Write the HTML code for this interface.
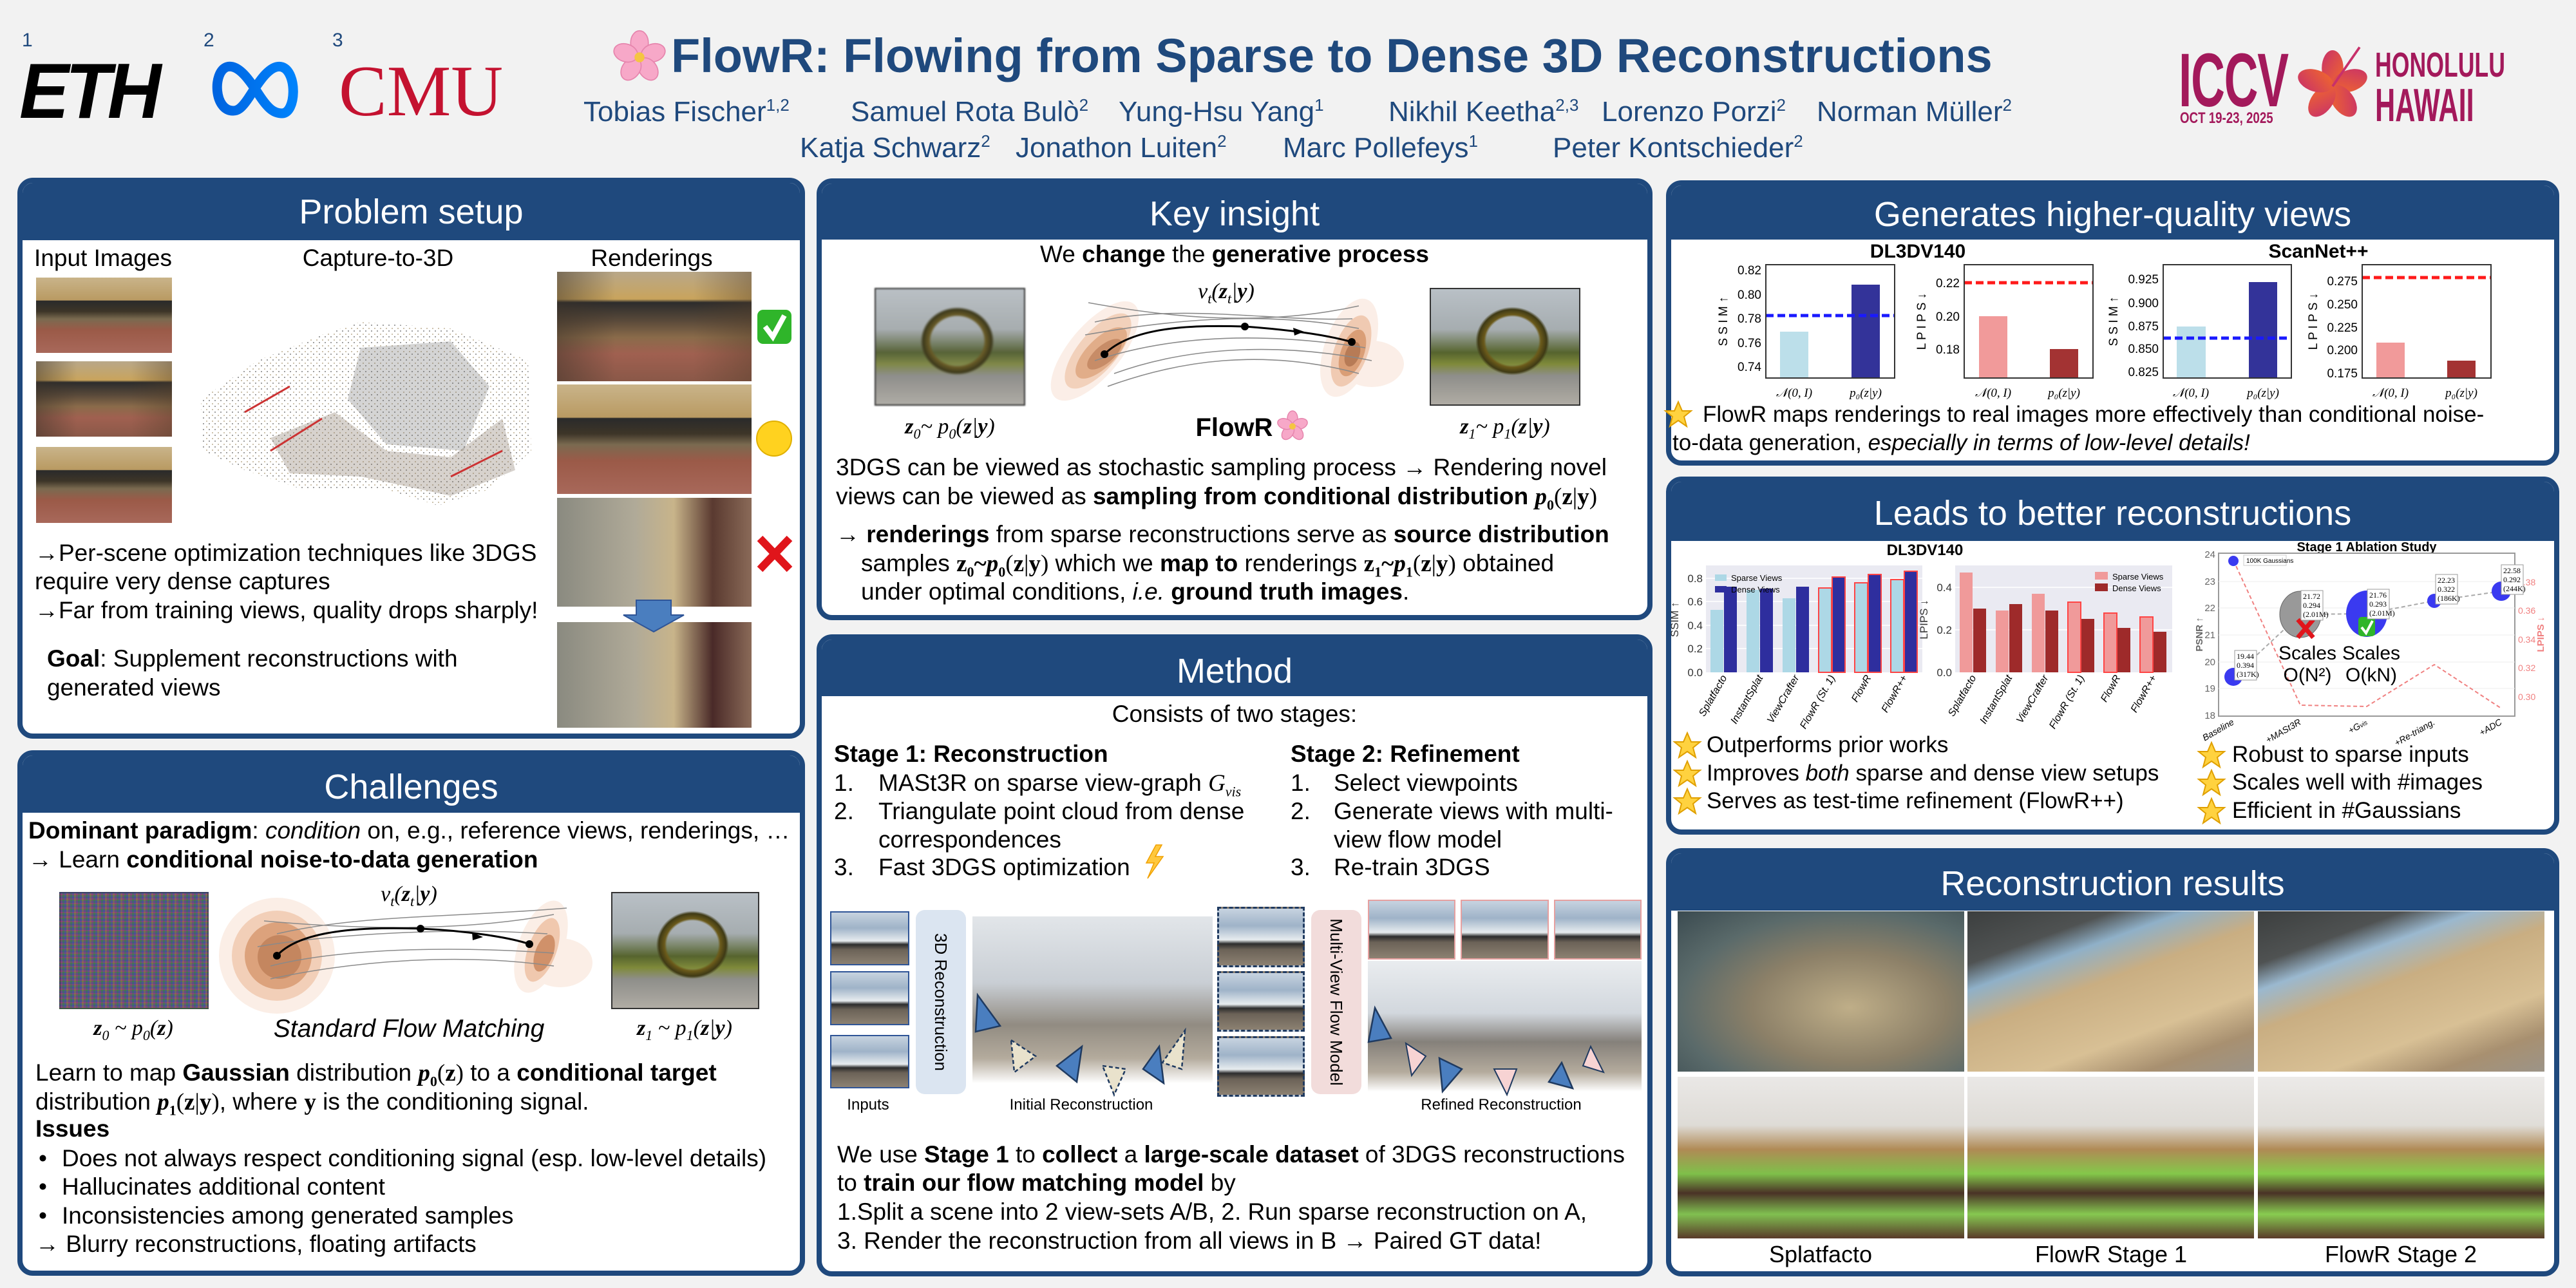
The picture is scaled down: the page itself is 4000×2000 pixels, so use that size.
<!DOCTYPE html>
<html><head><meta charset="utf-8">
<style>
*{margin:0;padding:0;box-sizing:border-box}
html,body{width:4000px;height:2000px;overflow:hidden;background:#f2f2f2;font-family:"Liberation Sans",sans-serif;color:#000}
.a{position:absolute}
.t{position:absolute;white-space:nowrap;font-size:37px;line-height:1}
.s35{font-size:35px}
.c{transform:translateX(-50%)}
.panel{position:absolute;border:8px solid #1f497d;border-radius:24px;background:#fff;overflow:hidden}
.hd{position:absolute;left:0;right:0;top:0;background:#1f497d;color:#fff;font-size:54px;text-align:center;line-height:1}
.m{font-family:"Liberation Serif",serif}
.mi{font-family:"Liberation Serif",serif;font-style:italic}
.mb{font-family:"Liberation Serif",serif;font-weight:bold}
.au{position:absolute;white-space:nowrap;font-size:44px;color:#1f497d;line-height:1}
.au sup{font-size:26px;vertical-align:16px;line-height:0}
.street{background:linear-gradient(180deg,#c9b48a 0%,#b99a62 30%,#2a2a2a 31%,#3d3528 45%,#7a6a50 55%,#9b5a48 70%,#a8685a 100%)}
.street2{background:linear-gradient(90deg,rgba(60,50,40,.5),rgba(0,0,0,0) 30%,rgba(0,0,0,0) 70%,rgba(80,60,40,.4)),linear-gradient(180deg,#b8a789 0%,#c9a45c 25%,#2c2c2c 28%,#5a4a3a 45%,#8a6b4a 60%,#a06050 75%,#8a5848 100%)}
.fount{background:radial-gradient(ellipse 32% 38% at 55% 45%,rgba(0,0,0,0) 55%,#6b5a1a 60%,#3f3a15 72%,rgba(0,0,0,0) 78%),linear-gradient(180deg,#b9c0c6 0%,#a6adb0 35%,#56642e 55%,#7f8a3a 65%,#8e8e8a 75%,#b0aca4 100%)}
.office{background:linear-gradient(180deg,#c7d3e0 0%,#9fb3c8 30%,#e7ecef 55%,#2c2c2c 62%,#6b6257 72%,#8c8172 100%)}
</style></head><body>

<!-- ===== HEADER ===== -->
<div class="t" style="left:34px;top:48px;font-size:30px;color:#1f497d">1</div>
<div class="t" style="left:30px;top:80px;font-size:122px;font-weight:bold;font-style:italic;letter-spacing:-6px;transform:scaleX(0.95);transform-origin:left">ETH</div>
<div class="t" style="left:316px;top:48px;font-size:30px;color:#1f497d">2</div>
<svg class="a" style="left:322px;top:92px" width="146" height="92" viewBox="0 0 146 92">
<defs><linearGradient id="mg" x1="0" x2="1"><stop offset="0" stop-color="#0064e0"/><stop offset="1" stop-color="#0082fb"/></linearGradient></defs>
<path d="M40 80 C10 80 8 20 30 12 C50 6 70 40 80 55 C95 78 104 84 116 84 C138 84 140 20 116 12 C96 6 76 42 64 60 C52 78 46 80 40 80 Z" fill="none" stroke="url(#mg)" stroke-width="15" stroke-linejoin="round"/></svg>
<div class="t" style="left:516px;top:48px;font-size:30px;color:#1f497d">3</div>
<div class="t" style="left:526px;top:86px;font-size:112px;font-family:'Liberation Serif',serif;color:#c41230">CMU</div>

<svg class="a" style="left:950px;top:46px" width="86" height="86" viewBox="0 0 100 100">
<g fill="#f7a8c8" stroke="#e685ad" stroke-width="2">
<ellipse cx="50" cy="24" rx="16" ry="22"/><ellipse cx="50" cy="24" rx="16" ry="22" transform="rotate(72 50 50)"/><ellipse cx="50" cy="24" rx="16" ry="22" transform="rotate(144 50 50)"/><ellipse cx="50" cy="24" rx="16" ry="22" transform="rotate(216 50 50)"/><ellipse cx="50" cy="24" rx="16" ry="22" transform="rotate(288 50 50)"/></g>
<circle cx="50" cy="50" r="9" fill="#f5c542"/></svg>
<div class="t" style="left:1042px;top:50px;font-size:74px;font-weight:bold;color:#1f497d">FlowR: Flowing from Sparse to Dense 3D Reconstructions</div>

<div class="au" style="left:906px;top:152px">Tobias Fischer<sup>1,2</sup></div>
<div class="au" style="left:1321px;top:152px">Samuel Rota Bulò<sup>2</sup></div>
<div class="au" style="left:1737px;top:152px">Yung-Hsu Yang<sup>1</sup></div>
<div class="au" style="left:2156px;top:152px">Nikhil Keetha<sup>2,3</sup></div>
<div class="au" style="left:2487px;top:152px">Lorenzo Porzi<sup>2</sup></div>
<div class="au" style="left:2821px;top:152px">Norman Müller<sup>2</sup></div>
<div class="au" style="left:1242px;top:208px">Katja Schwarz<sup>2</sup></div>
<div class="au" style="left:1577px;top:208px">Jonathon Luiten<sup>2</sup></div>
<div class="au" style="left:1992px;top:208px">Marc Pollefeys<sup>1</sup></div>
<div class="au" style="left:2411px;top:208px">Peter Kontschieder<sup>2</sup></div>

<!-- ICCV logo -->
<div class="t" style="left:3383px;top:66px;font-size:118px;font-weight:bold;color:#a3195b;transform:scaleX(0.62);transform-origin:left;letter-spacing:-2px">ICCV</div>
<div class="t" style="left:3385px;top:172px;font-size:24px;font-weight:bold;color:#a3195b;transform:scaleX(0.78);transform-origin:left">OCT 19-23, 2025</div>
<svg class="a" style="left:3560px;top:64px" width="124" height="140" viewBox="0 0 130 150">
<defs><linearGradient id="hb" x1="0" y1="0" x2="1" y2="1"><stop offset="0" stop-color="#c8306a"/><stop offset="1" stop-color="#f26a2a"/></linearGradient></defs>
<g fill="url(#hb)"><ellipse cx="65" cy="45" rx="18" ry="30"/><ellipse cx="65" cy="45" rx="18" ry="30" transform="rotate(72 65 75)"/><ellipse cx="65" cy="45" rx="18" ry="30" transform="rotate(144 65 75)"/><ellipse cx="65" cy="45" rx="18" ry="30" transform="rotate(216 65 75)"/><ellipse cx="65" cy="45" rx="18" ry="30" transform="rotate(288 65 75)"/></g>
<path d="M65 75 L110 10" stroke="#c8306a" stroke-width="4"/></svg>
<div class="t" style="left:3688px;top:74px;font-size:54px;font-weight:bold;color:#a3195b;transform:scaleX(0.66);transform-origin:left">HONOLULU</div>
<div class="t" style="left:3688px;top:128px;font-size:72px;font-weight:bold;color:#a3195b;transform:scaleX(0.6);transform-origin:left">HAWAII</div>

<!-- ===== PANELS ===== -->
<div class="panel" style="left:27px;top:276px;width:1223px;height:871px"><div class="hd" style="height:89px;padding-top:18px">Problem setup</div></div>
<div class="panel" style="left:27px;top:1165px;width:1223px;height:816px"><div class="hd" style="height:89px;padding-top:22px">Challenges</div></div>
<div class="panel" style="left:1268px;top:277px;width:1298px;height:686px"><div class="hd" style="height:87px;padding-top:20px">Key insight</div></div>
<div class="panel" style="left:1268px;top:985px;width:1298px;height:997px"><div class="hd" style="height:88px;padding-top:22px">Method</div></div>
<div class="panel" style="left:2587px;top:280px;width:1387px;height:443px"><div class="hd" style="height:84px;padding-top:18px">Generates higher-quality views</div></div>
<div class="panel" style="left:2587px;top:740px;width:1387px;height:556px"><div class="hd" style="height:92px;padding-top:22px">Leads to better reconstructions</div></div>
<div class="panel" style="left:2587px;top:1317px;width:1387px;height:665px"><div class="hd" style="height:89px;padding-top:20px">Reconstruction results</div></div>

<!-- ===== Problem setup content ===== -->
<div class="t c" style="left:160px;top:382px">Input Images</div>
<div class="t c" style="left:587px;top:382px">Capture-to-3D</div>
<div class="t c" style="left:1012px;top:382px">Renderings</div>
<div class="a street" style="left:56px;top:431px;width:211px;height:117px"></div>
<div class="a street2" style="left:56px;top:561px;width:211px;height:117px"></div>
<div class="a street" style="left:56px;top:694px;width:211px;height:118px"></div>
<div class="a street2" style="left:865px;top:422px;width:302px;height:170px"></div>
<div class="a street" style="left:865px;top:597px;width:302px;height:170px"></div>
<div class="a" style="left:865px;top:773px;width:302px;height:169px;background:linear-gradient(90deg,#8a8a80 0%,#b0aa98 40%,#c8b48a 60%,#5a3a30 80%,#8a6a58 100%)"></div>
<div class="a" style="left:865px;top:966px;width:302px;height:164px;background:linear-gradient(90deg,#8a8a80 0%,#b0aa98 40%,#c8b48a 60%,#4a2a28 80%,#8a6a58 100%)"></div>
<svg class="a" style="left:0;top:0" width="1260" height="1150">
<defs><pattern id="dots" width="9" height="9" patternUnits="userSpaceOnUse"><rect width="2" height="2" fill="#777"/><rect x="5" y="5" width="2" height="2" fill="#b8a888"/></pattern></defs>
<path d="M312 620 L400 560 L500 520 L560 500 L700 510 L820 560 L825 700 L760 760 L680 785 L600 760 L470 760 L380 730 L315 700 Z" fill="url(#dots)" opacity="0.7"/>
<path d="M560 540 L700 530 L760 600 L720 700 L600 690 L540 620 Z" fill="#555" opacity="0.25"/>
<path d="M420 680 L520 640 L600 700 L700 710 L780 650 L800 730 L700 770 L560 740 L450 735 Z" fill="#7a6a5a" opacity="0.3"/>
<path d="M380 640 L450 600 M420 700 L500 650 M700 740 L780 700" stroke="#c33" stroke-width="3"/>
<rect x="1176" y="481" width="53" height="53" rx="9" fill="#2fb52a"/><path d="M1188 507 L1200 523 L1218 490" stroke="#fff" stroke-width="8" fill="none"/>
<ellipse cx="1202" cy="681" rx="27" ry="27" fill="#ffd21f" stroke="#e0b000" stroke-width="2"/>
<path d="M1180 836 L1226 884 M1226 836 L1180 884" stroke="#e0151b" stroke-width="12"/>
<path d="M988 932 L1042 932 L1042 955 L1062 955 L1015 981 L968 955 L988 955 Z" fill="#4a7ebf" stroke="#2f5597" stroke-width="2"/>
</svg>
<div class="t" style="left:54px;top:840px">→Per-scene optimization techniques like 3DGS</div>
<div class="t" style="left:54px;top:884px">require very dense captures</div>
<div class="t" style="left:54px;top:929px">→Far from training views, quality drops sharply!</div>
<div class="t" style="left:73px;top:1004px"><b>Goal</b>: Supplement reconstructions with</div>
<div class="t" style="left:73px;top:1049px">generated views</div>

<!-- ===== Challenges content ===== -->
<div class="t" style="left:44px;top:1271px"><b>Dominant paradigm</b>: <i>condition</i> on, e.g., reference views, renderings, …</div>
<div class="t" style="left:44px;top:1316px">→ Learn <b>conditional noise-to-data generation</b></div>
<div class="a" style="left:92px;top:1385px;width:232px;height:182px;border:2px solid #333;background:repeating-linear-gradient(90deg,#7a3f6a 0 3px,#3d6a4a 3px 6px,#4a4a8a 6px 9px,#8a6a3a 9px 12px),#555;opacity:.9"></div>
<div class="a" style="left:92px;top:1385px;width:232px;height:182px;background:repeating-linear-gradient(0deg,rgba(40,120,60,.35) 0 2px,rgba(150,40,120,.35) 2px 4px,rgba(40,60,160,.35) 4px 7px)"></div>
<div class="a fount" style="left:949px;top:1385px;width:230px;height:182px;border:2px solid #333"></div>
<div class="t c mi" style="left:635px;top:1372px;font-size:34px"><i>v<sub style="font-size:22px">t</sub></i>(<b>z</b><sub style="font-size:22px">t</sub>|<b>y</b>)</div>
<div class="t c mi" style="left:207px;top:1580px;font-size:34px"><b>z</b><sub style="font-size:22px">0</sub> ~ <i>p</i><sub style="font-size:22px">0</sub>(<b>z</b>)</div>
<div class="t c" style="left:635px;top:1578px;font-size:39px;font-style:italic">Standard Flow Matching</div>
<div class="t c mi" style="left:1063px;top:1580px;font-size:34px"><b>z</b><sub style="font-size:22px">1</sub> ~ <i>p</i><sub style="font-size:22px">1</sub>(<b>z</b>|<b>y</b>)</div>
<div class="t" style="left:55px;top:1647px">Learn to map <b>Gaussian</b> distribution <b class="mi">p</b><sub class="mb" style="font-size:22px">0</sub><span class="m">(<b>z</b>)</span> to a <b>conditional target</b></div>
<div class="t" style="left:55px;top:1692px">distribution <b class="mi">p</b><sub class="mb" style="font-size:22px">1</sub><span class="m">(<b>z</b>|<b>y</b>)</span>, where <b class="m">y</b> is the conditioning signal.</div>
<div class="t" style="left:55px;top:1734px;font-weight:bold">Issues</div>
<div class="t" style="left:60px;top:1780px">•</div><div class="t" style="left:96px;top:1780px">Does not always respect conditioning signal (esp. low-level details)</div>
<div class="t" style="left:60px;top:1824px">•</div><div class="t" style="left:96px;top:1824px">Hallucinates additional content</div>
<div class="t" style="left:60px;top:1869px">•</div><div class="t" style="left:96px;top:1869px">Inconsistencies among generated samples</div>
<div class="t" style="left:55px;top:1913px">→ Blurry reconstructions, floating artifacts</div>

<!-- ===== Key insight content ===== -->
<div class="t c" style="left:1917px;top:376px">We <b>change</b> the <b>generative process</b></div>
<div class="a fount" style="left:1358px;top:447px;width:234px;height:183px;border:2px solid #333;filter:blur(1px) saturate(0.8)"></div>
<div class="a fount" style="left:2220px;top:447px;width:234px;height:183px;border:2px solid #333"></div>
<div class="t c mi" style="left:1904px;top:436px;font-size:34px"><i>v<sub style="font-size:22px">t</sub></i>(<b>z</b><sub style="font-size:22px">t</sub>|<b>y</b>)</div>
<div class="t c mi" style="left:1475px;top:646px;font-size:34px"><b>z</b><sub style="font-size:22px">0</sub>~ <i>p</i><sub style="font-size:22px">0</sub>(<b>z</b>|<b>y</b>)</div>
<div class="t c" style="left:1942px;top:644px;font-size:40px;font-weight:bold">FlowR <span style="display:inline-block;width:40px"></span></div>
<div class="t c mi" style="left:2337px;top:646px;font-size:34px"><b>z</b><sub style="font-size:22px">1</sub>~ <i>p</i><sub style="font-size:22px">1</sub>(<b>z</b>|<b>y</b>)</div>
<div class="t" style="left:1298px;top:707px">3DGS can be viewed as stochastic sampling process → Rendering novel</div>
<div class="t" style="left:1298px;top:752px">views can be viewed as <b>sampling from conditional distribution </b><b class="mi">p</b><sub class="mb" style="font-size:22px">0</sub><span class="m">(<b>z</b>|<b>y</b>)</span></div>
<div class="t" style="left:1298px;top:811px">→ <b>renderings</b> from sparse reconstructions serve as <b>source distribution</b></div>
<div class="t" style="left:1337px;top:856px">samples <b class="m">z<sub style="font-size:22px">0</sub>~<i>p</i><sub style="font-size:22px">0</sub></b><span class="m">(<b>z</b>|<b>y</b>)</span> which we <b>map to</b> renderings <b class="m">z<sub style="font-size:22px">1</sub>~<i>p</i><sub style="font-size:22px">1</sub></b><span class="m">(<b>z</b>|<b>y</b>)</span> obtained</div>
<div class="t" style="left:1337px;top:900px">under optimal conditions, <i>i.e.</i> <b>ground truth images</b>.</div>

<!-- ===== Method content ===== -->
<div class="t c" style="left:1917px;top:1090px">Consists of two stages:</div>
<div class="t" style="left:1295px;top:1152px;font-weight:bold">Stage 1: Reconstruction</div>
<div class="t" style="left:1295px;top:1197px">1.</div><div class="t" style="left:1364px;top:1197px">MASt3R on sparse view-graph <span class="mi">G<sub style="font-size:22px">vis</sub></span></div>
<div class="t" style="left:1295px;top:1241px">2.</div><div class="t" style="left:1364px;top:1241px">Triangulate point cloud from dense</div>
<div class="t" style="left:1364px;top:1285px">correspondences</div>
<div class="t" style="left:1295px;top:1328px">3.</div><div class="t" style="left:1364px;top:1328px">Fast 3DGS optimization</div>
<div class="t" style="left:2004px;top:1152px;font-weight:bold">Stage 2: Refinement</div>
<div class="t" style="left:2004px;top:1197px">1.</div><div class="t" style="left:2071px;top:1197px">Select viewpoints</div>
<div class="t" style="left:2004px;top:1241px">2.</div><div class="t" style="left:2071px;top:1241px">Generate views with multi-</div>
<div class="t" style="left:2071px;top:1285px">view flow model</div>
<div class="t" style="left:2004px;top:1328px">3.</div><div class="t" style="left:2071px;top:1328px">Re-train 3DGS</div>

<div class="a office" style="left:1289px;top:1415px;width:123px;height:84px;border:2px solid #2f5597"></div>
<div class="a office" style="left:1289px;top:1508px;width:123px;height:84px;border:2px solid #2f5597"></div>
<div class="a office" style="left:1289px;top:1607px;width:123px;height:83px;border:2px solid #2f5597"></div>
<div class="a" style="left:1422px;top:1413px;width:78px;height:286px;background:#dbe5f1;border-radius:14px"></div>
<div class="t" style="left:1461px;top:1556px;font-size:26px;transform:translate(-50%,-50%) rotate(90deg)">3D Reconstruction</div>
<div class="a" style="left:1510px;top:1423px;width:373px;height:259px;background:linear-gradient(180deg,#d8dde2 0%,#b7bec6 40%,#6d6558 65%,#9b8f7c 85%,#fff 100%);opacity:.75"></div>
<div class="a office" style="left:1890px;top:1408px;width:136px;height:94px;border:3px dashed #1f3a60"></div>
<div class="a office" style="left:1890px;top:1508px;width:136px;height:94px;border:3px dashed #1f3a60"></div>
<div class="a office" style="left:1890px;top:1609px;width:136px;height:94px;border:3px dashed #1f3a60"></div>
<div class="a" style="left:2036px;top:1413px;width:78px;height:286px;background:#f2dcdb;border-radius:14px"></div>
<div class="t" style="left:2075px;top:1556px;font-size:26px;transform:translate(-50%,-50%) rotate(90deg)">Multi-View Flow Model</div>
<div class="a office" style="left:2124px;top:1397px;width:136px;height:93px;border:2px solid #e6a0a0"></div>
<div class="a office" style="left:2268px;top:1397px;width:137px;height:93px;border:2px solid #e6a0a0"></div>
<div class="a office" style="left:2413px;top:1397px;width:136px;height:93px;border:2px solid #e6a0a0"></div>
<div class="a" style="left:2124px;top:1492px;width:425px;height:203px;background:linear-gradient(180deg,#e2e6ea 0%,#c3cad2 40%,#5c564e 62%,#9b8f7c 85%,#fff 100%);opacity:.75"></div>
<div class="t c" style="left:1348px;top:1704px;font-size:24px">Inputs</div>
<div class="t c" style="left:1679px;top:1704px;font-size:24px">Initial Reconstruction</div>
<div class="t c" style="left:2331px;top:1704px;font-size:24px">Refined Reconstruction</div>

<div class="t" style="left:1300px;top:1774px">We use <b>Stage 1</b> to <b>collect</b> a <b>large-scale dataset</b> of 3DGS reconstructions</div>
<div class="t" style="left:1300px;top:1818px">to <b>train our flow matching model</b> by</div>
<div class="t" style="left:1300px;top:1863px">1.Split a scene into 2 view-sets A/B, 2. Run sparse reconstruction on A,</div>
<div class="t" style="left:1300px;top:1908px">3. Render the reconstruction from all views in B → Paired GT data!</div>

<!-- ===== Generates content text ===== -->
<div class="t s35" style="left:2644px;top:626px">FlowR maps renderings to real images more effectively than conditional noise-</div>
<div class="t s35" style="left:2597px;top:670px">to-data generation, <i>especially in terms of low-level details!</i></div>

<!-- ===== Leads text ===== -->
<div class="t s35" style="left:2650px;top:1139px">Outperforms prior works</div>
<div class="t s35" style="left:2650px;top:1183px">Improves <i>both</i> sparse and dense view setups</div>
<div class="t s35" style="left:2650px;top:1226px">Serves as test-time refinement (FlowR++)</div>
<div class="t s35" style="left:3466px;top:1154px">Robust to sparse inputs</div>
<div class="t s35" style="left:3466px;top:1197px">Scales well with #images</div>
<div class="t s35" style="left:3466px;top:1241px">Efficient in #Gaussians</div>

<!-- ===== Reconstruction results ===== -->
<div class="a" style="left:2605px;top:1415px;width:445px;height:249px;background:radial-gradient(ellipse at 60% 60%,#bfae88 0%,#8c8068 40%,#5a6a6a 70%,#3a4a50 100%)"></div>
<div class="a" style="left:3055px;top:1415px;width:445px;height:249px;background:linear-gradient(160deg,#3c3f3f 0%,#4f5252 20%,#8fb0c8 30%,#c9ae82 45%,#d8c095 70%,#a89070 85%,#9c9488 100%)"></div>
<div class="a" style="left:3506px;top:1415px;width:445px;height:249px;background:linear-gradient(160deg,#3c3f3f 0%,#4f5252 20%,#9ab8cf 30%,#c9ae82 45%,#d8c095 70%,#a89070 85%,#9c9488 100%)"></div>
<div class="a" style="left:2605px;top:1672px;width:445px;height:251px;background:linear-gradient(180deg,#eae8e6 0%,#dedbd6 30%,#b08a55 45%,#7fc04a 60%,#4a3226 72%,#80c050 85%,#5a3a2a 100%)"></div>
<div class="a" style="left:3055px;top:1672px;width:445px;height:251px;background:linear-gradient(180deg,#eae8e6 0%,#dedbd6 30%,#b08a55 45%,#84c84a 60%,#4a3226 72%,#86c850 85%,#5a3a2a 100%)"></div>
<div class="a" style="left:3506px;top:1672px;width:445px;height:251px;background:linear-gradient(180deg,#eceae8 0%,#e0ddd8 30%,#b08a55 45%,#86cc4a 60%,#4a3226 72%,#88cc50 85%,#5a3a2a 100%)"></div>
<div class="t c" style="left:2827px;top:1930px;font-size:36px">Splatfacto</div>
<div class="t c" style="left:3278px;top:1930px;font-size:36px">FlowR Stage 1</div>
<div class="t c" style="left:3728px;top:1930px;font-size:36px">FlowR Stage 2</div>

<!-- ===== Global SVG overlay ===== -->
<svg class="a" style="left:0;top:0" width="4000" height="2000" font-family="Liberation Sans, sans-serif">
<defs>
<g id="star"><polygon points="0,-20 6,-6 20,-6 9,3 13,18 0,9 -13,18 -9,3 -20,-6 -6,-6" fill="#ffd23f" stroke="#e0a000" stroke-width="2"/></g>
</defs>

<!-- Key insight flow -->
<g opacity="0.95">
<ellipse cx="1700" cy="545" rx="95" ry="40" transform="rotate(-50 1700 545)" fill="#fbeee6"/>
<ellipse cx="1705" cy="545" rx="72" ry="30" transform="rotate(-50 1705 545)" fill="#f2cfb8"/>
<ellipse cx="1710" cy="548" rx="52" ry="22" transform="rotate(-45 1710 548)" fill="#e0a983"/>
<ellipse cx="1715" cy="550" rx="33" ry="14" transform="rotate(-40 1715 550)" fill="#c4865f"/>
<ellipse cx="2095" cy="540" rx="80" ry="38" transform="rotate(-70 2095 540)" fill="#fbeee6"/>
<ellipse cx="2130" cy="565" rx="50" ry="36" fill="#fbeee6"/>
<ellipse cx="2098" cy="545" rx="58" ry="26" transform="rotate(-70 2098 545)" fill="#f0c8ae"/>
<ellipse cx="2100" cy="548" rx="38" ry="18" transform="rotate(-70 2100 548)" fill="#d9996f"/>
<ellipse cx="2100" cy="550" rx="20" ry="11" transform="rotate(-70 2100 550)" fill="#b4744d"/>
</g>
<g fill="none" stroke="#8a8a8a" stroke-width="1.6">
<path d="M1690 470 C1800 490 1950 510 2110 475"/><path d="M1685 520 C1800 500 1950 480 2110 510"/><path d="M1700 560 C1820 520 1960 515 2120 540"/><path d="M1720 600 C1830 560 1960 540 2110 580"/><path d="M1700 500 C1830 470 1980 500 2100 495"/><path d="M1730 580 C1840 540 1980 530 2130 560"/>
</g>
<path d="M1715 550 C1760 505 1860 505 1933 507 C2000 512 2060 520 2099 531" fill="none" stroke="#000" stroke-width="3"/>
<circle cx="1715" cy="550" r="6"/><circle cx="1933" cy="507" r="6"/><circle cx="2099" cy="531" r="6"/>
<polygon points="2025,515 2008,509 2010,521"/>
<g transform="translate(2007 662)"><g fill="#f7a8c8" stroke="#e685ad" stroke-width="1.5"><ellipse cx="0" cy="-12" rx="8" ry="12"/><ellipse cx="0" cy="-12" rx="8" ry="12" transform="rotate(72)"/><ellipse cx="0" cy="-12" rx="8" ry="12" transform="rotate(144)"/><ellipse cx="0" cy="-12" rx="8" ry="12" transform="rotate(216)"/><ellipse cx="0" cy="-12" rx="8" ry="12" transform="rotate(288)"/></g><circle r="5" fill="#f5c542"/></g>

<!-- Challenges flow -->
<circle cx="430" cy="1484" r="90" fill="#fbeee6"/><circle cx="430" cy="1484" r="70" fill="#f2cfb8"/><circle cx="432" cy="1484" r="52" fill="#dca27c"/><circle cx="434" cy="1486" r="34" fill="#c4865f"/>
<ellipse cx="840" cy="1470" rx="75" ry="35" transform="rotate(-70 840 1470)" fill="#fbeee6"/>
<ellipse cx="870" cy="1495" rx="50" ry="38" fill="#fbeee6"/>
<ellipse cx="842" cy="1475" rx="52" ry="22" transform="rotate(-70 842 1475)" fill="#f0c8ae"/>
<ellipse cx="845" cy="1480" rx="30" ry="14" transform="rotate(-70 845 1480)" fill="#d0916a"/>
<g fill="none" stroke="#8a8a8a" stroke-width="1.5">
<path d="M410 1430 C520 1440 700 1450 860 1420"/><path d="M400 1470 C520 1450 700 1440 850 1450"/><path d="M420 1500 C540 1470 720 1470 860 1480"/><path d="M420 1520 C560 1490 720 1480 860 1500"/><path d="M430 1450 C560 1420 700 1425 880 1410"/>
</g>
<path d="M430 1484 C470 1440 580 1440 653 1442 C720 1445 790 1455 822 1466" fill="none" stroke="#000" stroke-width="3"/>
<circle cx="430" cy="1484" r="6"/><circle cx="653" cy="1442" r="6"/><circle cx="822" cy="1466" r="6"/>
<polygon points="750,1455 733,1448 734,1460"/>

<!-- lightning -->
<polygon points="1795,1312 1780,1340 1792,1340 1782,1364 1806,1330 1794,1330 1804,1312" fill="#ffc83d" stroke="#f0a000" stroke-width="1.5"/>

<!-- Method triangles -->
<g stroke="#1f3a60" stroke-width="2.5">
<polygon points="1518,1545 1553,1593 1515,1602" fill="#4a7ebf"/>
<polygon points="1641,1655 1680,1625 1672,1680" fill="#4a7ebf"/>
<polygon points="1800,1625 1807,1682 1775,1660" fill="#4a7ebf"/>
<polygon points="2135,1565 2160,1612 2125,1618" fill="#4a7ebf"/>
<polygon points="2235,1643 2270,1660 2240,1695" fill="#4a7ebf"/>
<polygon points="2425,1650 2442,1690 2405,1680" fill="#4a7ebf"/>
</g>
<g stroke="#1f3a60" stroke-width="2.5" stroke-dasharray="6 4" fill="#e9e2cc">
<polygon points="1570,1615 1608,1640 1575,1665"/>
<polygon points="1712,1655 1748,1660 1730,1700"/>
<polygon points="1840,1600 1835,1660 1805,1650"/>
</g>
<g stroke="#1f3a60" stroke-width="2" fill="#f7d3d3">
<polygon points="2183,1620 2214,1640 2192,1670"/>
<polygon points="2320,1660 2355,1660 2340,1700"/>
<polygon points="2470,1625 2458,1655 2490,1665"/>
</g>

<!-- Stars -->
<use href="#star" x="2606" y="644"/>
<use href="#star" x="2620" y="1158"/><use href="#star" x="2620" y="1202"/><use href="#star" x="2620" y="1245"/>
<use href="#star" x="3434" y="1173"/><use href="#star" x="3434" y="1216"/><use href="#star" x="3434" y="1260"/>

<!-- Generates charts -->
<text x="2978" y="400" font-size="30" font-weight="bold" text-anchor="middle">DL3DV140</text>
<text x="3600" y="400" font-size="30" font-weight="bold" text-anchor="middle">ScanNet++</text>
<g font-size="19" text-anchor="end">
<rect x="2764" y="515" width="44" height="72" fill="#bcdfea"/><rect x="2875" y="442" width="44" height="145" fill="#333399"/>
<line x1="2742" y1="490" x2="2942" y2="490" stroke="#1a1aff" stroke-width="5" stroke-dasharray="12 6"/>
<rect x="2742" y="411" width="200" height="176" fill="none" stroke="#333" stroke-width="2"/>
<text x="2735" y="426">0.82</text><text x="2735" y="464">0.80</text><text x="2735" y="501">0.78</text><text x="2735" y="539">0.76</text><text x="2735" y="576">0.74</text>
<text transform="translate(2682 499) rotate(-90)" text-anchor="middle">S S I M  ↑</text>
<rect x="3073" y="491" width="44" height="96" fill="#f19a9a"/><rect x="3183" y="542" width="44" height="45" fill="#a33333"/>
<line x1="3050" y1="439" x2="3250" y2="439" stroke="#ff1a1a" stroke-width="5" stroke-dasharray="12 6"/>
<rect x="3050" y="411" width="200" height="176" fill="none" stroke="#333" stroke-width="2"/>
<text x="3043" y="446">0.22</text><text x="3043" y="498">0.20</text><text x="3043" y="549">0.18</text>
<text transform="translate(2990 499) rotate(-90)" text-anchor="middle">L P I P S  ↓</text>
<rect x="3380" y="507" width="45" height="80" fill="#bcdfea"/><rect x="3492" y="438" width="44" height="149" fill="#333399"/>
<line x1="3359" y1="525" x2="3558" y2="525" stroke="#1a1aff" stroke-width="5" stroke-dasharray="12 6"/>
<rect x="3359" y="411" width="199" height="176" fill="none" stroke="#333" stroke-width="2"/>
<text x="3352" y="440">0.925</text><text x="3352" y="477">0.900</text><text x="3352" y="513">0.875</text><text x="3352" y="548">0.850</text><text x="3352" y="584">0.825</text>
<text transform="translate(3288 499) rotate(-90)" text-anchor="middle">S S I M  ↑</text>
<rect x="3690" y="532" width="44" height="55" fill="#f19a9a"/><rect x="3800" y="560" width="44" height="27" fill="#a33333"/>
<line x1="3668" y1="431" x2="3868" y2="431" stroke="#ff1a1a" stroke-width="5" stroke-dasharray="12 6"/>
<rect x="3668" y="411" width="200" height="176" fill="none" stroke="#333" stroke-width="2"/>
<text x="3661" y="443">0.275</text><text x="3661" y="479">0.250</text><text x="3661" y="515">0.225</text><text x="3661" y="550">0.200</text><text x="3661" y="586">0.175</text>
<text transform="translate(3598 499) rotate(-90)" text-anchor="middle">L P I P S  ↓</text>
</g>
<g font-size="19" text-anchor="middle" font-family="Liberation Serif, serif" font-style="italic">
<text x="2786" y="616">𝒩(0, I)</text><text x="2897" y="616">p₀(z|y)</text>
<text x="3095" y="616">𝒩(0, I)</text><text x="3205" y="616">p₀(z|y)</text>
<text x="3402" y="616">𝒩(0, I)</text><text x="3514" y="616">p₀(z|y)</text>
<text x="3712" y="616">𝒩(0, I)</text><text x="3822" y="616">p₀(z|y)</text>
</g>

<!-- Leads bar charts -->
<text x="2989" y="862" font-size="24" font-weight="bold" text-anchor="middle">DL3DV140</text>
<rect x="2649" y="878" width="336" height="166" fill="#eaeaf2"/>
<rect x="3036" y="878" width="337" height="166" fill="#eaeaf2"/>
<g stroke="#fff" stroke-width="1.5">
<line x1="2649" y1="1007" x2="2985" y2="1007"/><line x1="2649" y1="971" x2="2985" y2="971"/><line x1="2649" y1="934" x2="2985" y2="934"/><line x1="2649" y1="898" x2="2985" y2="898"/>
<line x1="3036" y1="978" x2="3373" y2="978"/><line x1="3036" y1="912" x2="3373" y2="912"/>
</g>
<g>
<rect x="2656" y="947" width="20" height="97" fill="#add8e6"/><rect x="2677" y="911" width="20" height="133" fill="#2e2e9e"/>
<rect x="2712" y="916" width="20" height="128" fill="#add8e6"/><rect x="2733" y="914" width="20" height="130" fill="#2e2e9e"/>
<rect x="2768" y="929" width="20" height="115" fill="#add8e6"/><rect x="2789" y="911" width="20" height="133" fill="#2e2e9e"/>
<rect x="2824" y="913" width="20" height="131" fill="#add8e6" stroke="#f44" stroke-width="2"/><rect x="2845" y="896" width="20" height="148" fill="#2e2e9e" stroke="#f44" stroke-width="2"/>
<rect x="2880" y="905" width="20" height="139" fill="#add8e6" stroke="#f44" stroke-width="2"/><rect x="2901" y="892" width="20" height="152" fill="#2e2e9e" stroke="#f44" stroke-width="2"/>
<rect x="2936" y="900" width="20" height="144" fill="#add8e6" stroke="#f44" stroke-width="2"/><rect x="2957" y="887" width="20" height="157" fill="#2e2e9e" stroke="#f44" stroke-width="2"/>
<rect x="2663" y="892" width="18" height="10" fill="#add8e6"/><text x="2688" y="902" font-size="13">Sparse Views</text>
<rect x="2663" y="910" width="18" height="10" fill="#2e2e9e"/><text x="2688" y="920" font-size="13">Dense Views</text>
</g>
<g>
<rect x="3043" y="889" width="20" height="155" fill="#f09a9a"/><rect x="3064" y="945" width="20" height="99" fill="#9e2a2a"/>
<rect x="3099" y="948" width="20" height="96" fill="#f09a9a"/><rect x="3120" y="938" width="20" height="106" fill="#9e2a2a"/>
<rect x="3155" y="922" width="20" height="122" fill="#f09a9a"/><rect x="3176" y="948" width="20" height="96" fill="#9e2a2a"/>
<rect x="3211" y="935" width="20" height="109" fill="#f09a9a" stroke="#f44" stroke-width="2"/><rect x="3232" y="961" width="20" height="83" fill="#9e2a2a"/>
<rect x="3267" y="952" width="20" height="92" fill="#f09a9a" stroke="#f44" stroke-width="2"/><rect x="3288" y="975" width="20" height="69" fill="#9e2a2a"/>
<rect x="3323" y="958" width="20" height="86" fill="#f09a9a" stroke="#f44" stroke-width="2"/><rect x="3344" y="981" width="20" height="63" fill="#9e2a2a"/>
<rect x="3253" y="888" width="20" height="12" fill="#f09a9a"/><text x="3280" y="900" font-size="13">Sparse Views</text>
<rect x="3253" y="906" width="20" height="12" fill="#9e2a2a"/><text x="3280" y="918" font-size="13">Dense Views</text>
</g>
<g font-size="17" text-anchor="end" fill="#333">
<text x="2644" y="1050">0.0</text><text x="2644" y="1013">0.2</text><text x="2644" y="977">0.4</text><text x="2644" y="940">0.6</text><text x="2644" y="904">0.8</text>
<text x="3031" y="1050">0.0</text><text x="3031" y="984">0.2</text><text x="3031" y="918">0.4</text>
<text transform="translate(2606 962) rotate(-90)" text-anchor="middle">SSIM ↑</text>
<text transform="translate(2993 962) rotate(-90)" text-anchor="middle">LPIPS ↓</text>
</g>
<g font-size="16" text-anchor="end" font-style="italic">
<text transform="translate(2682 1052) rotate(-60)">Splatfacto</text>
<text transform="translate(2738 1052) rotate(-60)">InstantSplat</text>
<text transform="translate(2794 1052) rotate(-60)">ViewCrafter</text>
<text transform="translate(2850 1052) rotate(-60)">FlowR (St. 1)</text>
<text transform="translate(2906 1052) rotate(-60)">FlowR</text>
<text transform="translate(2962 1052) rotate(-60)">FlowR++</text>
<text transform="translate(3069 1052) rotate(-60)">Splatfacto</text>
<text transform="translate(3125 1052) rotate(-60)">InstantSplat</text>
<text transform="translate(3181 1052) rotate(-60)">ViewCrafter</text>
<text transform="translate(3237 1052) rotate(-60)">FlowR (St. 1)</text>
<text transform="translate(3293 1052) rotate(-60)">FlowR</text>
<text transform="translate(3349 1052) rotate(-60)">FlowR++</text>
</g>

<!-- Ablation -->
<text x="3675" y="856" font-size="20" font-weight="bold" text-anchor="middle">Stage 1 Ablation Study</text>
<rect x="3445" y="859" width="460" height="253" fill="#fff" stroke="#999" stroke-width="2"/>
<g stroke="#eee" stroke-width="1"><line x1="3445" y1="1069" x2="3905" y2="1069"/><line x1="3445" y1="1028" x2="3905" y2="1028"/><line x1="3445" y1="986" x2="3905" y2="986"/><line x1="3445" y1="944" x2="3905" y2="944"/><line x1="3445" y1="903" x2="3905" y2="903"/></g>
<g font-size="15" fill="#666" text-anchor="end">
<text x="3440" y="1116">18</text><text x="3440" y="1074">19</text><text x="3440" y="1033">20</text><text x="3440" y="991">21</text><text x="3440" y="949">22</text><text x="3440" y="908">23</text><text x="3440" y="866">24</text>
<text transform="translate(3420 985) rotate(-90)" text-anchor="middle" font-weight="bold">PSNR ↑</text>
</g>
<g font-size="14" fill="#f08080">
<text x="3910" y="1087">0.30</text><text x="3910" y="1042">0.32</text><text x="3910" y="998">0.34</text><text x="3910" y="953">0.36</text><text x="3910" y="909">0.38</text>
<text transform="translate(3950 985) rotate(-90)" text-anchor="middle" font-weight="bold" font-size="15">LPIPS ↓</text>
</g>
<polyline points="3468,870 3572,1095 3675,1097 3780,1032 3884,1100" fill="none" stroke="#f08080" stroke-width="2" stroke-dasharray="6 4"/>
<polyline points="3468,1051 3572,954 3675,953 3780,933 3884,918" fill="none" stroke="#aaa" stroke-width="2" stroke-dasharray="6 4"/>
<circle cx="3468" cy="871" r="8" fill="#3a3af0"/><rect x="3484" y="862" width="66" height="16" fill="#fff" stroke="#ccc"/><text x="3488" y="874" font-size="10">100K Gaussians</text>
<circle cx="3468" cy="1051" r="14" fill="#3a3af0"/>
<ellipse cx="3572" cy="954" rx="32" ry="36" fill="#999" stroke="#666"/>
<ellipse cx="3675" cy="953" rx="32" ry="36" fill="#3a3af0"/>
<circle cx="3780" cy="933" r="11" fill="#3a3af0"/>
<circle cx="3884" cy="918" r="15" fill="#3a3af0"/>
<path d="M3568 962 L3592 990 M3592 962 L3568 990" stroke="#e0151b" stroke-width="7"/>
<rect x="3662" y="958" width="26" height="30" rx="5" fill="#2fb52a"/><path d="M3667 974 L3674 983 L3684 964" stroke="#fff" stroke-width="4" fill="none"/>
<g font-size="12" font-family="Liberation Serif, serif">
<rect x="3470" y="1010" width="34" height="46" fill="#fff" stroke="#999"/><text x="3473" y="1023">19.44</text><text x="3473" y="1037">0.394</text><text x="3473" y="1051">(317K)</text>
<rect x="3573" y="917" width="34" height="46" fill="#fff" stroke="#999"/><text x="3576" y="930">21.72</text><text x="3576" y="944">0.294</text><text x="3576" y="958">(2.01M)</text>
<rect x="3676" y="915" width="34" height="46" fill="#fff" stroke="#999"/><text x="3679" y="928">21.76</text><text x="3679" y="942">0.293</text><text x="3679" y="956">(2.01M)</text>
<rect x="3782" y="892" width="34" height="46" fill="#fff" stroke="#999"/><text x="3785" y="905">22.23</text><text x="3785" y="919">0.322</text><text x="3785" y="933">(186K)</text>
<rect x="3884" y="877" width="34" height="46" fill="#fff" stroke="#999"/><text x="3887" y="890">22.58</text><text x="3887" y="904">0.292</text><text x="3887" y="918">(244K)</text>
</g>
<g font-size="30" text-anchor="middle">
<text x="3583" y="1024">Scales</text><text x="3583" y="1058">O(N²)</text>
<text x="3682" y="1024">Scales</text><text x="3682" y="1058">O(kN)</text>
</g>
<g font-size="14" font-style="italic" text-anchor="end">
<text transform="translate(3470 1124) rotate(-30)">Baseline</text>
<text transform="translate(3574 1124) rotate(-30)">+MASt3R</text>
<text transform="translate(3677 1124) rotate(-30)">+G<tspan font-size="10">vis</tspan></text>
<text transform="translate(3782 1124) rotate(-30)">+Re-triang.</text>
<text transform="translate(3886 1124) rotate(-30)">+ADC</text>
</g>
</svg>

</body></html>
